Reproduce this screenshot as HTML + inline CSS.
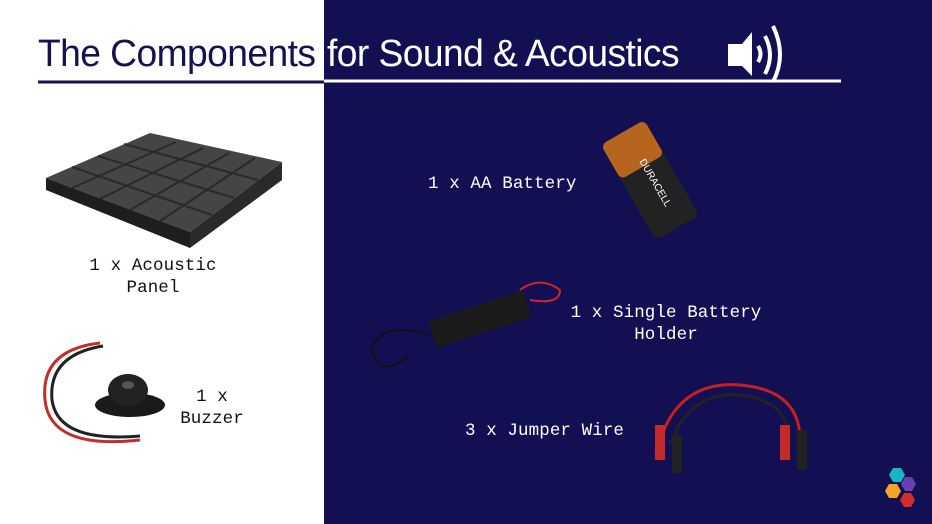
<!DOCTYPE html>
<html><head><meta charset="utf-8"><style>
body{margin:0;width:932px;height:524px;overflow:hidden;position:relative;background:#fff;font-family:"Liberation Sans",sans-serif}
.navy{position:absolute;left:324px;top:0;width:608px;height:524px;background:#120f52}
.t{position:absolute;font-size:38px;top:33px;white-space:nowrap;letter-spacing:-0.6px;transform-origin:0 0;transform:scaleX(0.98)}
.m{position:absolute;font-family:"Liberation Mono",monospace;font-size:17.5px;text-align:center;line-height:22px;white-space:nowrap;letter-spacing:0.1px}
svg{position:absolute;left:0;top:0}
</style></head><body>
<div class="navy"></div>
<div class="t" style="left:38px;color:#14124f">The Components</div>
<div class="t" style="left:327px;color:#fff">for Sound &amp; Acoustics</div>
<div class="m" style="left:70px;top:255px;width:166px;color:#111">1 x Acoustic<br>Panel</div>
<div class="m" style="left:168px;top:386px;width:88px;color:#111">1 x<br>Buzzer</div>
<div class="m" style="left:428px;top:173px;color:#fff">1 x AA Battery</div>
<div class="m" style="left:556px;top:302px;width:220px;color:#fff">1 x Single Battery<br>Holder</div>
<div class="m" style="left:465px;top:420px;color:#fff">3 x Jumper Wire</div>
<svg width="932" height="524">
<line x1="38" y1="82" x2="324" y2="82" stroke="#14124f" stroke-width="3"/>
<line x1="324" y1="81" x2="841" y2="81" stroke="#fff" stroke-width="3"/>
<polygon points="728,44 742,44 752,32 752,76 742,66 728,66" fill="#fff"/>
<path d="M758,46 q5,8 0,16" stroke="#fff" stroke-width="4" fill="none"/>
<path d="M765,36 q10,19 0,38" stroke="#fff" stroke-width="4" fill="none"/>
<path d="M773,26 q14,29 0,56" stroke="#fff" stroke-width="4" fill="none"/>
<!-- acoustic panel -->
<polygon points="46,178 150,133 282,162 190,232" fill="#454547"/>
<g stroke="#2a2a2c" stroke-width="2">
<line x1="72" y1="167" x2="212" y2="215"/><line x1="98" y1="156" x2="234" y2="198"/><line x1="124" y1="144" x2="258" y2="180"/>
<line x1="72" y1="188" x2="176" y2="142"/><line x1="100" y1="199" x2="203" y2="148"/><line x1="130" y1="210" x2="229" y2="153"/><line x1="160" y1="221" x2="255" y2="158"/>
</g>
<polygon points="46,178 190,232 190,248 46,190" fill="#1e1e20"/>
<polygon points="190,232 282,162 282,180 190,248" fill="#2a2a2c"/>
<!-- buzzer -->
<path d="M100,343 Q40,350 45,400 Q50,450 140,440" stroke="#c0302a" stroke-width="3" fill="none"/>
<path d="M103,346 Q48,355 52,400 Q58,443 140,436" stroke="#222" stroke-width="3" fill="none"/>
<ellipse cx="130" cy="405" rx="35" ry="12" fill="#1a1a1a"/>
<ellipse cx="128" cy="390" rx="20" ry="16" fill="#222"/>
<ellipse cx="128" cy="385" rx="6" ry="4" fill="#555"/>
<!-- battery -->
<g transform="rotate(-30 650 180)"><rect x="625" y="125" width="50" height="110" rx="6" fill="#222"/><rect x="625" y="125" width="50" height="40" rx="6" fill="#b5651d"/><text x="650" y="185" font-size="10" fill="#fff" text-anchor="middle" transform="rotate(90 650 185)" font-family="Liberation Sans">DURACELL</text></g>
<!-- battery holder -->
<g transform="rotate(-18 480 320)"><rect x="430" y="305" width="100" height="28" rx="3" fill="#1b1b1b"/></g>
<path d="M430,335 Q380,320 372,350 Q380,380 410,355" stroke="#111" stroke-width="2" fill="none"/>
<path d="M520,290 Q540,275 560,290 Q560,305 530,300" stroke="#d0242a" stroke-width="2" fill="none"/>
<!-- jumper wires -->
<path d="M660,440 Q680,380 740,385 Q800,390 800,440" stroke="#c32020" stroke-width="3" fill="none"/>
<path d="M670,445 Q690,390 740,395 Q790,400 790,445" stroke="#222" stroke-width="3" fill="none"/>
<rect x="655" y="425" width="10" height="35" fill="#c52a2a"/><rect x="672" y="435" width="10" height="38" fill="#222"/>
<rect x="780" y="425" width="10" height="35" fill="#c52a2a"/><rect x="797" y="430" width="10" height="40" fill="#222"/>
<!-- logo -->
<polygon points="893,468 901,468 905,475 901,482 893,482 889,475" fill="#19b5c4"/>
<polygon points="905,477 912,477 916,484 912,491 905,491 901,484" fill="#6a3fb0"/>
<polygon points="889,484 897,484 901,491 897,498 889,498 885,491" fill="#f5a623"/>
<polygon points="904,493 911,493 915,500 911,507 904,507 900,500" fill="#d42c2c"/>
</svg>
</body></html>
